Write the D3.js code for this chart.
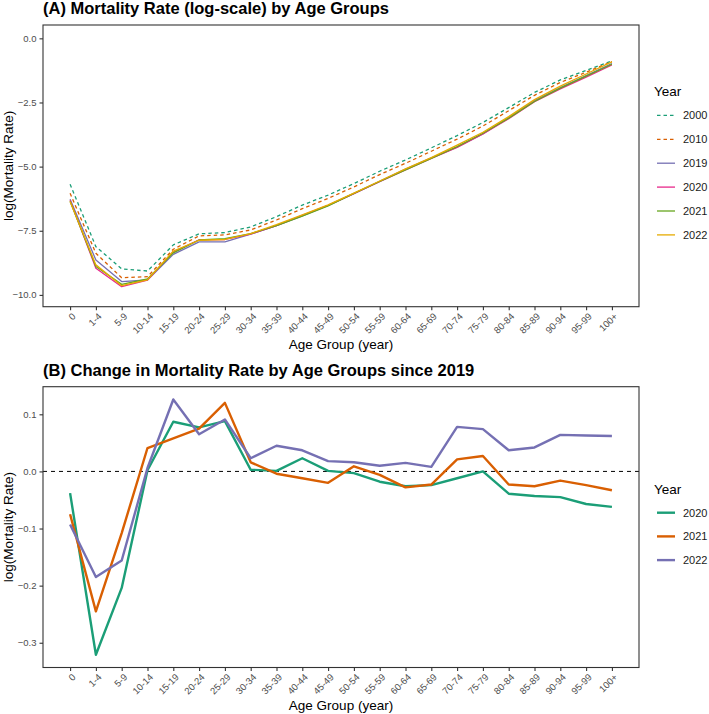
<!DOCTYPE html>
<html><head><meta charset="utf-8">
<script src="https://cdn.jsdelivr.net/npm/d3@7"></script>
<style>
body{margin:0;background:#fff}
text{font-family:"Liberation Sans",Arial,Helvetica,sans-serif}
</style>
</head><body>
<svg id="chart" width="709" height="714"></svg>
<script>
// ---------- data ----------
const ageGroups = ["0","1-4","5-9","10-14","15-19","20-24","25-29","30-34","35-39","40-44","45-49",
  "50-54","55-59","60-64","65-69","70-74","75-79","80-84","85-89","90-94","95-99","100+"];

const yearsA = ["2000","2010","2019","2020","2021","2022"];
const rate2000 = [-5.69,-8.12,-8.99,-9.07,-8.05,-7.62,-7.57,-7.35,-6.95,-6.50,-6.11,-5.66,-5.18,-4.74,-4.27,-3.79,-3.28,-2.70,-2.11,-1.62,-1.25,-0.88];
const rate2010 = [-6.04,-8.38,-9.33,-9.29,-8.22,-7.70,-7.66,-7.47,-7.08,-6.64,-6.24,-5.79,-5.31,-4.87,-4.40,-3.93,-3.42,-2.82,-2.22,-1.72,-1.32,-0.91];
const rate2019 = [-6.27,-8.64,-9.48,-9.42,-8.42,-7.93,-7.93,-7.63,-7.30,-6.92,-6.51,-6.05,-5.57,-5.10,-4.66,-4.24,-3.73,-3.09,-2.43,-1.92,-1.45,-0.98];
const rate2020 = [-6.31,-8.96,-9.68,-9.42,-8.33,-7.85,-7.84,-7.63,-7.30,-6.90,-6.51,-6.05,-5.59,-5.13,-4.68,-4.25,-3.73,-3.13,-2.47,-1.97,-1.51,-1.04];
const rate2021 = [-6.35,-8.89,-9.59,-9.38,-8.36,-7.86,-7.81,-7.61,-7.30,-6.93,-6.53,-6.04,-5.58,-5.13,-4.68,-4.22,-3.70,-3.11,-2.46,-1.94,-1.47,-1.01];
const rate2022 = [-6.36,-8.83,-9.64,-9.41,-8.29,-7.87,-7.84,-7.61,-7.26,-6.88,-6.49,-6.03,-5.56,-5.09,-4.65,-4.16,-3.66,-3.05,-2.39,-1.86,-1.39,-0.92];

const yearsB = ["2020","2021","2022"];
const change2020 = [-0.038,-0.321,-0.204,0.002,0.087,0.077,0.088,0.003,0.001,0.023,0.001,-0.003,-0.018,-0.026,-0.024,-0.012,0.000,-0.039,-0.043,-0.045,-0.057,-0.062];
const change2021 = [-0.075,-0.245,-0.108,0.041,0.058,0.075,0.120,0.016,-0.004,-0.012,-0.020,0.009,-0.006,-0.028,-0.023,0.021,0.027,-0.023,-0.026,-0.016,-0.024,-0.033];
const change2022 = [-0.093,-0.185,-0.156,0.006,0.126,0.065,0.091,0.023,0.045,0.037,0.018,0.016,0.010,0.015,0.008,0.078,0.074,0.037,0.042,0.064,0.063,0.062];

const ticksA = [0,-2.5,-5,-7.5,-10];
const ticksB = [0.1,0,-0.1,-0.2,-0.3];

// ---------- styling ----------
const seriesA = [
  {year:"2000", values:rate2000, color:"#1B9E77", dash:"3.5,3"},
  {year:"2010", values:rate2010, color:"#D95F02", dash:"3.5,3"},
  {year:"2019", values:rate2019, color:"#7570B3", dash:null},
  {year:"2020", values:rate2020, color:"#E7298A", dash:null},
  {year:"2021", values:rate2021, color:"#66A61E", dash:null},
  {year:"2022", values:rate2022, color:"#E6AB02", dash:null}
];
const seriesB = [
  {year:"2020", values:change2020, color:"#1B9E77"},
  {year:"2021", values:change2021, color:"#D95F02"},
  {year:"2022", values:change2022, color:"#7570B3"}
];

const svg = d3.select("#chart");
const L = 43, R = 639;
const tickCol = "#333333", labCol = "#4D4D4D";

function panel(cfg){
  const {top, bottom, yDomain, ticks, fmt, series, lw, title, legendTop, itemStep} = cfg;
  const x = d3.scalePoint().domain(ageGroups).range([L, R]).padding(1.05);
  const y = d3.scaleLinear().domain(yDomain).range([bottom, top]);
  const g = svg.append("g");

  // title
  g.append("text").attr("x", L).attr("y", top - 11)
    .attr("font-size", 16.5).attr("font-weight", "bold").attr("fill", "#000").text(title);

  // zero line (panel B)
  if (cfg.zeroLine) {
    g.append("line").attr("x1", L).attr("x2", R).attr("y1", y(0)).attr("y2", y(0))
      .attr("stroke", "#000").attr("stroke-width", 1).attr("stroke-dasharray", "4,4");
  }

  // lines
  const line = d3.line().x((d,i) => x(ageGroups[i])).y(d => y(d));
  series.forEach(s => {
    g.append("path").datum(s.values).attr("d", line)
      .attr("fill", "none").attr("stroke", s.color).attr("stroke-width", lw)
      .attr("stroke-linejoin", "round")
      .attr("stroke-dasharray", s.dash || null);
  });

  // border
  g.append("rect").attr("x", L).attr("y", top).attr("width", R - L).attr("height", bottom - top)
    .attr("fill", "none").attr("stroke", tickCol).attr("stroke-width", 1.1);

  // y axis
  const ya = g.append("g").attr("transform", `translate(${L},0)`)
    .call(d3.axisLeft(y).tickValues(ticks).tickFormat(fmt).tickSize(3.5).tickPadding(3));
  ya.select(".domain").remove();
  ya.selectAll("line").attr("stroke", tickCol).attr("stroke-width", 1.1);
  ya.selectAll("text").attr("fill", labCol).attr("font-size", 9.5).attr("font-family", "Liberation Sans, Arial, sans-serif");

  // x axis
  const xa = g.append("g").attr("transform", `translate(0,${bottom})`)
    .call(d3.axisBottom(x).tickSize(3.5));
  xa.select(".domain").remove();
  xa.selectAll("line").attr("stroke", tickCol).attr("stroke-width", 1.1);
  xa.selectAll("text").attr("fill", labCol).attr("font-size", 9.5)
    .attr("font-family", "Liberation Sans, Arial, sans-serif")
    .attr("text-anchor", "end").attr("x", 0).attr("y", 0).attr("dy", "0.71em")
    .attr("transform", "translate(1,5.5) rotate(-45)");

  // axis titles
  g.append("text").attr("x", (L + R) / 2).attr("y", bottom + 42)
    .attr("text-anchor", "middle").attr("font-size", 13.5).attr("fill", "#000").text("Age Group (year)");
  g.append("text").attr("transform", `translate(13,${(top + bottom) / 2}) rotate(-90)`)
    .attr("text-anchor", "middle").attr("font-size", 13.5).attr("fill", "#000").text("log(Mortality Rate)");

  // legend
  const lg = g.append("g");
  lg.append("text").attr("x", 654).attr("y", legendTop).attr("dy", "0.35em")
    .attr("font-size", 13.5).attr("fill", "#000").text("Year");
  series.forEach((s, i) => {
    const yy = legendTop + itemStep * (i + 1);
    lg.append("line").attr("x1", 657).attr("x2", 675).attr("y1", yy).attr("y2", yy)
      .attr("stroke", s.color).attr("stroke-width", lw).attr("stroke-dasharray", s.dash || null);
    lg.append("text").attr("x", 683).attr("y", yy).attr("dy", "0.35em")
      .attr("font-size", 11).attr("fill", "#1A1A1A").text(s.year);
  });
}

panel({top:25, bottom:306.7, yDomain:[-10.46, 0.52], ticks:ticksA, fmt:d3.format(".1f"),
  series:seriesA, lw:1.3, title:"(A) Mortality Rate (log-scale) by Age Groups",
  legendTop:91.5, itemStep:23.9});

const bMin = d3.min([change2020, change2021, change2022].flat());
const bMax = d3.max([change2020, change2021, change2022].flat());
const pad = (bMax - bMin) * 0.05;
panel({top:386.7, bottom:667.5, yDomain:[bMin - pad, bMax + pad], ticks:ticksB, fmt:d3.format(".1f"),
  series:seriesB, lw:2.4, title:"(B) Change in Mortality Rate by Age Groups since 2019",
  legendTop:489, itemStep:23.7, zeroLine:true});
</script>
</body></html>
